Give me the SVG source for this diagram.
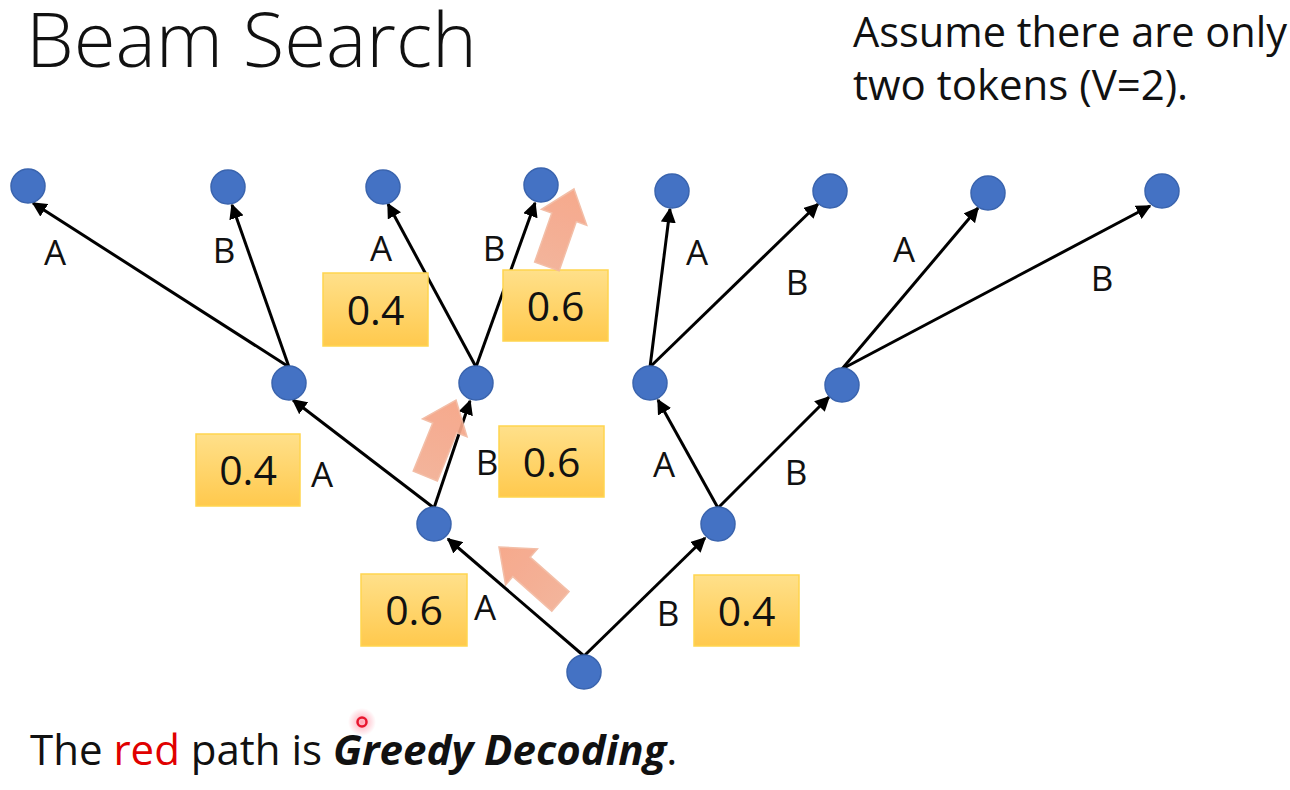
<svg xmlns="http://www.w3.org/2000/svg" width="1290" height="790" viewBox="0 0 1290 790">
  <defs>
    <style>
      .txt { font-family: "Open Sans", "Noto Sans", "Liberation Sans", sans-serif; fill: #111; }
      .lbl { font-size: 35px; text-anchor: middle; }
      .val { font-size: 41px; text-anchor: middle; }
      .node { fill: #4472C4; stroke: #3A64AE; stroke-width: 1.5; }
      .edge { stroke: #000; stroke-width: 3; fill: none; marker-end: url(#head); }
      .box { fill: url(#boxFill); stroke: #FFD54F; stroke-width: 1.5; }
      .hint { fill: url(#hintFill); stroke: #F2B9A0; stroke-width: 1.5; opacity: 0.92; }
    </style>
    <marker id="head" viewBox="0 0 10 10" refX="9" refY="5" markerWidth="5" markerHeight="5" orient="auto" markerUnits="strokeWidth">
      <path d="M0,0 L10,5 L0,10 Z" fill="#000"/>
    </marker>
    <linearGradient id="boxFill" x1="0" y1="0" x2="0" y2="1">
      <stop offset="0" stop-color="#FFE08A"/>
      <stop offset="1" stop-color="#FFC94D"/>
    </linearGradient>
    <linearGradient id="hintFill" x1="0" y1="0" x2="0" y2="1">
      <stop offset="0" stop-color="#F6A283"/>
      <stop offset="1" stop-color="#F3AE93"/>
    </linearGradient>
    <radialGradient id="glow">
      <stop offset="0" stop-color="#FF4D6A" stop-opacity="0.5"/>
      <stop offset="1" stop-color="#FF4D6A" stop-opacity="0"/>
    </radialGradient>
    <!-- block arrow pointing up, tip at origin -->
    <path id="blockArrow" d="M0,0 L24,30 L13,30 L13,82 L-13,82 L-13,30 L-24,30 Z"/>
  </defs>

  <rect width="1290" height="790" fill="#fff"/>

  <!-- headings -->
  <text class="txt" x="26" y="67" font-size="75" font-weight="300" textLength="451" lengthAdjust="spacingAndGlyphs">Beam Search</text>
  <text class="txt" x="853" y="47" font-size="42" textLength="434" lengthAdjust="spacingAndGlyphs">Assume there are only</text>
  <text class="txt" x="853" y="100" font-size="42">two tokens (V=2).</text>

  <!-- connectors -->
  <g id="connectors">
    <line class="edge" x1="584" y1="656" x2="448" y2="539"/>
    <line class="edge" x1="584" y1="656" x2="705" y2="538"/>
    <line class="edge" x1="434" y1="508" x2="293" y2="400"/>
    <line class="edge" x1="434" y1="508" x2="470" y2="401"/>
    <line class="edge" x1="718" y1="508" x2="658" y2="400"/>
    <line class="edge" x1="718" y1="508" x2="829" y2="397"/>
    <line class="edge" x1="289" y1="367" x2="33" y2="203"/>
    <line class="edge" x1="289" y1="367" x2="232" y2="205"/>
    <line class="edge" x1="476" y1="367" x2="388" y2="204"/>
    <line class="edge" x1="476" y1="367" x2="535" y2="203"/>
    <line class="edge" x1="650" y1="367" x2="670" y2="209"/>
    <line class="edge" x1="650" y1="367" x2="818" y2="204"/>
    <line class="edge" x1="842" y1="369" x2="978" y2="208"/>
    <line class="edge" x1="842" y1="369" x2="1150" y2="206"/>
  </g>

  <!-- edge labels -->
  <g id="edge-labels" class="txt">
    <text class="lbl" x="55" y="265">A</text>
    <text class="lbl" x="224" y="263">B</text>
    <text class="lbl" x="381" y="261">A</text>
    <text class="lbl" x="494" y="261">B</text>
    <text class="lbl" x="697" y="265">A</text>
    <text class="lbl" x="797" y="295">B</text>
    <text class="lbl" x="904" y="262">A</text>
    <text class="lbl" x="1102" y="291">B</text>
    <text class="lbl" x="322" y="487">A</text>
    <text class="lbl" x="487" y="475">B</text>
    <text class="lbl" x="664" y="477">A</text>
    <text class="lbl" x="796" y="485">B</text>
    <text class="lbl" x="485" y="620">A</text>
    <text class="lbl" x="668" y="626">B</text>
  </g>

  <!-- probability boxes -->
  <g id="prob-boxes" class="txt">
    <g id="p-AA"><rect class="box" x="323" y="273" width="105" height="73"/><text class="val" x="375.5" y="325">0.4</text></g>
    <g id="p-AB"><rect class="box" x="503" y="270" width="105" height="71"/><text class="val" x="555.5" y="321">0.6</text></g>
    <g id="p-A-A"><rect class="box" x="196" y="434" width="104" height="72"/><text class="val" x="248" y="485">0.4</text></g>
    <g id="p-A-B"><rect class="box" x="499" y="426" width="105" height="71"/><text class="val" x="551.5" y="477">0.6</text></g>
    <g id="p-A"><rect class="box" x="361" y="574" width="106" height="72"/><text class="val" x="414" y="625">0.6</text></g>
    <g id="p-B"><rect class="box" x="694" y="575" width="105" height="71"/><text class="val" x="746.5" y="626">0.4</text></g>
  </g>

  <!-- greedy choice arrows -->
  <g id="greedy-path">
    <use href="#blockArrow" class="hint" transform="translate(499,547) rotate(-48.5)"/>
    <use href="#blockArrow" class="hint" transform="translate(456,400) rotate(22)"/>
    <use href="#blockArrow" class="hint" transform="translate(574,189) rotate(19.3)"/>
  </g>

  <!-- tree nodes -->
  <g id="nodes">
    <g id="root"><circle class="node" cx="584" cy="672" r="17"/></g>
    <g id="n-A"><circle class="node" cx="434" cy="524" r="17"/></g>
    <g id="n-B"><circle class="node" cx="718" cy="524" r="17"/></g>
    <g id="n-AA"><circle class="node" cx="289" cy="383" r="17"/></g>
    <g id="n-AB"><circle class="node" cx="476" cy="383" r="17"/></g>
    <g id="n-BA"><circle class="node" cx="650" cy="383" r="17"/></g>
    <g id="n-BB"><circle class="node" cx="842" cy="385" r="17"/></g>
    <g id="n-AAA"><circle class="node" cx="28" cy="186" r="17"/></g>
    <g id="n-AAB"><circle class="node" cx="228" cy="187" r="17"/></g>
    <g id="n-ABA"><circle class="node" cx="383" cy="187" r="17"/></g>
    <g id="n-ABB"><circle class="node" cx="541" cy="185" r="17"/></g>
    <g id="n-BAA"><circle class="node" cx="672" cy="191" r="17"/></g>
    <g id="n-BAB"><circle class="node" cx="830" cy="191" r="17"/></g>
    <g id="n-BBA"><circle class="node" cx="988" cy="193" r="17"/></g>
    <g id="n-BBB"><circle class="node" cx="1162" cy="191" r="17"/></g>
  </g>

  <!-- pointer marker -->
  <circle cx="362" cy="722" r="14" fill="url(#glow)"/>
  <circle cx="362" cy="722" r="4.5" fill="none" stroke="#E8162E" stroke-width="2.5"/>

  <!-- caption -->
  <text class="txt" x="30" y="765" font-size="42">The <tspan fill="#E00000">red</tspan> path is <tspan font-weight="bold" font-style="italic">Greedy Decoding</tspan>.</text>
</svg>
